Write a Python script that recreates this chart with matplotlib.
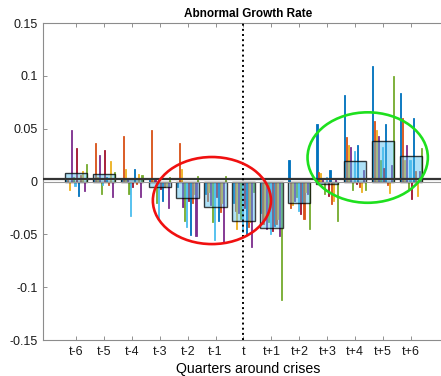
import matplotlib
matplotlib.use("Agg")
import matplotlib.pyplot as plt
from matplotlib.patches import Ellipse
import numpy as np

plt.rcParams['font.family'] = ['Liberation Sans', 'DejaVu Sans']

# quarters around the crisis
quarters = ['t-6', 't-5', 't-4', 't-3', 't-2', 't-1', 't',
            't+1', 't+2', 't+3', 't+4', 't+5', 't+6']

# average abnormal growth per quarter (wide light-blue bars)
mean_growth = [0.008, 0.0075, 0.002, -0.005, -0.016, -0.024, -0.037,
               -0.044, -0.020, -0.002, 0.019, 0.038, 0.024]

# individual series (12 per quarter, thin bars)
g_tm6 = [0.003, 0.002, -0.008, 0.049, 0.004, -0.004, 0.032, -0.014, 0.006, 0.010, -0.009, 0.017]
g_tm5 = [0.003, 0.036, 0.004, 0.025, -0.012, -0.003, 0.030, 0.004, -0.003, 0.019, -0.015, 0.009]
g_tm4 = [0.002, 0.043, 0.012, 0.002, -0.012, -0.033, -0.005, 0.012, -0.002, 0.007, -0.015, 0.006]
g_tm3 = [0.002, 0.049, 0.001, 0.003, -0.020, -0.036, -0.007, -0.018, -0.005, -0.004, -0.025, 0.004]
g_tm2 = [-0.005, 0.036, 0.012, -0.024, -0.037, -0.043, -0.018, -0.051, -0.020, -0.012, -0.052, 0.005]
g_tm1 = [-0.012, -0.018, -0.010, -0.022, -0.038, -0.055, -0.015, -0.037, -0.029, -0.020, -0.057, 0.005]
g_t0 = [-0.020, -0.028, -0.045, -0.030, -0.035, -0.048, -0.025, -0.051, -0.043, -0.038, -0.062, -0.010]
g_tp1 = [-0.030, -0.040, -0.035, -0.045, -0.038, -0.050, -0.047, -0.042, -0.040, -0.035, -0.052, -0.112]
g_tp2 = [0.020, -0.025, -0.022, -0.018, -0.015, -0.028, -0.031, -0.020, -0.035, -0.010, -0.012, -0.045]
g_tp3 = [0.054, 0.009, 0.008, 0.002, -0.012, 0.004, -0.014, 0.011, -0.021, -0.018, 0.003, -0.037]
g_tp4 = [0.082, 0.042, 0.035, 0.033, -0.008, 0.029, -0.002, 0.035, -0.005, -0.010, 0.011, -0.008]
g_tp5 = [0.109, 0.057, 0.049, 0.043, 0.020, 0.033, 0.013, 0.054, -0.003, -0.011, 0.016, 0.100]
g_tp6 = [0.084, 0.060, 0.020, 0.035, -0.007, 0.020, -0.017, 0.060, 0.010, -0.014, 0.010, 0.032]

groups = np.array([g_tm6, g_tm5, g_tm4, g_tm3, g_tm2, g_tm1, g_t0,
                   g_tp1, g_tp2, g_tp3, g_tp4, g_tp5, g_tp6])

# MATLAB default colour order
colors = ['#0072BD', '#D95319', '#EDB120', '#7E2F8E', '#77AC30', '#4DBEEE', '#A2142F']

x = np.arange(1, len(quarters) + 1)
n_series = groups.shape[1]
group_w = 0.8
step = group_w / n_series

fig = plt.figure(figsize=(4.41, 3.76), dpi=100)
ax = fig.add_axes([0.0975, 0.0957, 0.93, 0.843])

for i in range(n_series):
    offs = -group_w / 2 + step / 2 + i * step
    c = colors[i % len(colors)]
    ax.bar(x + offs, groups[:, i], width=step * 0.6,
           color=c, edgecolor=c, linewidth=0.6, zorder=2)

ax.bar(x, mean_growth, width=0.8, color='#4DBEEE', alpha=0.45,
       edgecolor='none', zorder=3)
ax.bar(x, mean_growth, width=0.8, fill=False,
       edgecolor=(0, 0, 0, 0.75), linewidth=1.0, zorder=4)

ax.axhline(0, color='0.6', lw=0.8, zorder=4)
ax.axhline(0.0022, color='0.2', lw=1.6, zorder=5)
ax.axvline(7, color='black', ls=':', lw=1.4, zorder=5)

ax.add_patch(Ellipse((5.87, -0.018), 4.23, 0.0824, fill=False,
                     edgecolor='#F01010', lw=1.9, zorder=6))
ax.add_patch(Ellipse((11.45, 0.0227), 4.31, 0.0856, fill=False,
                     edgecolor='#1EE01E', lw=1.9, zorder=6))

ax.set_xlim(-0.18, 14.51)
ax.set_ylim(-0.15, 0.15)
ax.set_xticks(x)
ax.set_xticklabels(quarters)
ax.set_yticks([-0.15, -0.1, -0.05, 0, 0.05, 0.1, 0.15])
ax.set_yticklabels(['-0.15', '-0.1', '-0.05', '0', '0.05', '0.1', '0.15'])
ax.tick_params(direction='in', length=3, width=0.6, color='0.5',
               labelsize=9, top=True, labelcolor='0.1', pad=4)
for s in ax.spines.values():
    s.set_color('0.55')
    s.set_linewidth(0.8)

ax.set_title('Abnormal Growth Rate', fontsize=8.5, fontweight='bold', pad=4)
ax.set_xlabel('Quarters around crises', fontsize=10.2, labelpad=3)

fig.savefig('out.png', dpi=100)
